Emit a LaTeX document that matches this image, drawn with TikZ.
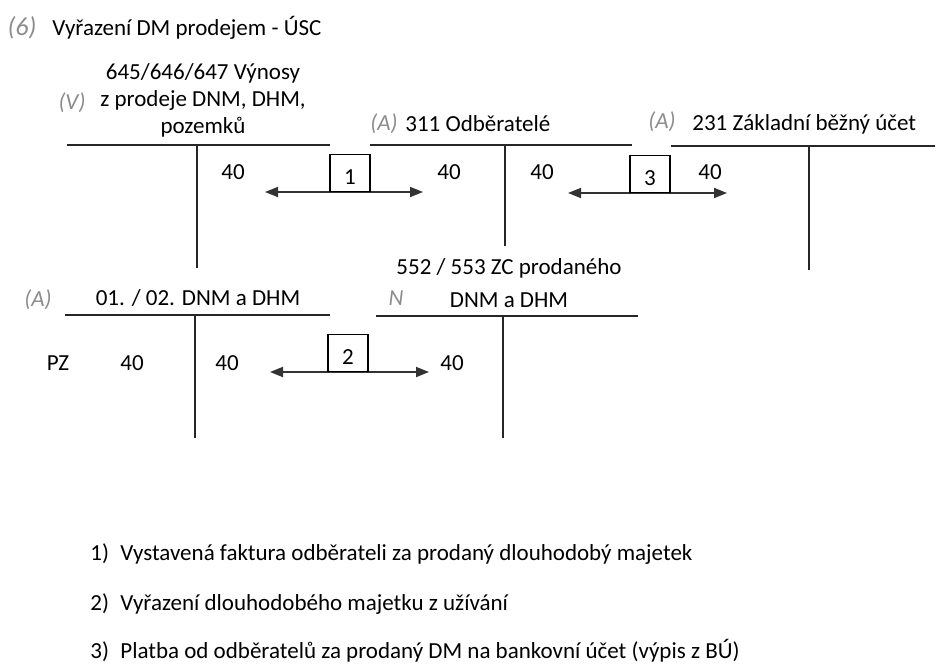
\documentclass[tikz,border=0pt]{standalone}
\usepackage{fontspec}
\setmainfont{Carlito}
\usetikzlibrary{positioning, arrows.meta}

\begin{document}
\begin{tikzpicture}[
        x=0.5pt, y=-0.5pt,
        font=\fontsize{11.5}{13.5}\selectfont,
        lbl/.style={inner sep=0pt, align=center},
        hand/.style={inner sep=0pt, text=black!45, font=\fontsize{11.5}{13.5}\selectfont\itshape},
        tline/.style={line width=0.7pt, black!85},
        numbox/.style={draw, line width=0.6pt, minimum width=20pt, minimum height=18.5pt, inner sep=0pt, anchor=south, text height=12pt, text depth=0pt},
        arrow/.style={{Triangle[length=6.5pt,width=5pt]}-{Triangle[length=6.5pt,width=5pt]}, line width=0.9pt, black!80}
    ]
        \useasboundingbox (0,0) rectangle (940,664);

        % Title
        \node[hand, font=\fontsize{13}{15}\selectfont\itshape] (hnum) at (22,28) {(6)};
        \node[lbl, anchor=west] (title) at (52,28) {Vyřazení DM prodejem - ÚSC};

        % Account titles
        \node[lbl] (vynosy) at (203,100) {645/646/647 Výnosy\\z prodeje DNM, DHM,\\pozemků};
        \node[hand] (hV) at (72,103) {(V)};
        \node[lbl, anchor=west] (odb) at (405,124) {311 Odběratelé};
        \node[hand] (hA1) at (384,124) {(A)};
        \node[lbl, anchor=west] (bu) at (692,124) {231 Základní běžný účet};
        \node[hand] (hA2) at (662,122) {(A)};
        \node[lbl] (dm) at (198,298) {01. / 02. DNM a DHM};
        \node[hand] (hA3) at (38,300) {(A)};
        \node[lbl] (zc) at (509,283) {552 / 553 ZC prodaného\\[3pt]DNM a DHM};
        \node[hand] (hN) at (396,298) {N};

        % T-accounts
        \draw[tline] (67,145) -- (330,145) (197,145) -- (197,268);
        \draw[tline] (370,145) -- (632,145) (505,145) -- (505,246);
        \draw[tline] (671,146) -- (935,146) (809,146) -- (809,270);
        \draw[tline] (65,315) -- (330,315) (195,315) -- (195,438);
        \draw[tline] (376,316) -- (638,316) (503,316) -- (503,438);

        % Amounts
        \node[lbl] (v40) at (233,172) {40};
        \node[lbl] (o40a) at (449,172) {40};
        \node[lbl] (o40b) at (542,172) {40};
        \node[lbl] (b40) at (710,172) {40};
        \node[lbl] (pz) at (58,363) {PZ};
        \node[lbl] (d40a) at (132,363) {40};
        \node[lbl] (d40b) at (227,363) {40};
        \node[lbl] (z40) at (452,363) {40};

        % Arrows
        \coordinate (a1s) at (265,192);
        \coordinate (a1e) at (423,192);
        \draw[arrow] (a1s) -- (a1e);
        \node[numbox] (n1) at (350,192) {1};

        \coordinate (a2s) at (270,372);
        \coordinate (a2e) at (429,372);
        \draw[arrow] (a2s) -- (a2e);
        \node[numbox] (n2) at (348,372) {2};

        \coordinate (a3s) at (568,193);
        \coordinate (a3e) at (727,193);
        \draw[arrow] (a3s) -- (a3e);
        \node[numbox] (n3) at (650,193) {3};

        % Legend
        \node[lbl, anchor=base west] (l1n) at (90,560) {1)};
        \node[lbl, anchor=base west] (l1) at (120,560) {Vystavená faktura odběrateli za prodaný dlouhodobý majetek};
        \node[lbl, anchor=base west] (l2n) at (90,610) {2)};
        \node[lbl, anchor=base west] (l2) at (120,610) {Vyřazení dlouhodobého majetku z užívání};
        \node[lbl, anchor=base west] (l3n) at (90,658) {3)};
        \node[lbl, anchor=base west] (l3) at (120,658) {Platba od odběratelů za prodaný DM na bankovní účet (výpis z BÚ)};
    \end{tikzpicture}
\end{document}
